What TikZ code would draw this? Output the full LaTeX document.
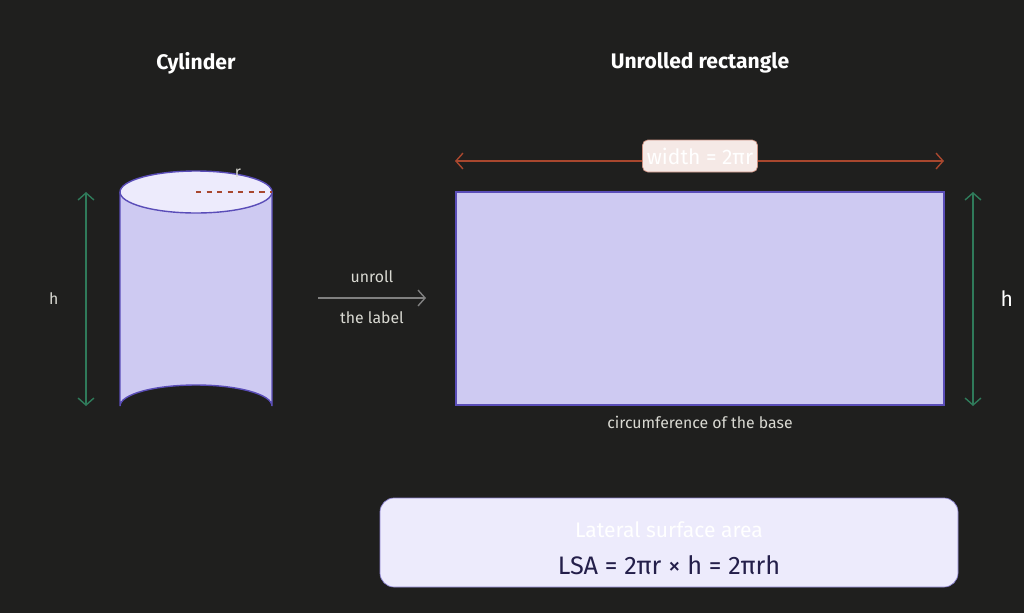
\documentclass[tikz,border=0pt]{standalone}
\usepackage{fontspec}
\setmainfont{Fira Sans}
\usetikzlibrary{arrows.meta}
\definecolor{bg}{HTML}{1F1F1E}
\definecolor{lav}{HTML}{CECAF2}
\definecolor{lavtop}{HTML}{EDEBFC}
\definecolor{edge}{HTML}{5A4DB8}
\definecolor{rust}{HTML}{A8472E}
\definecolor{pine}{HTML}{2F7A5A}
\definecolor{txt}{HTML}{D9D9D2}
\tikzset{
  dim/.style={{Straight Barb[length=4pt,width=9pt]}-{Straight Barb[length=4pt,width=9pt]}, line width=0.8pt},
  caption/.style={text=txt, font=\small},
  title/.style={text=white, font=\large\bfseries}
}
\begin{document}
\begin{tikzpicture}[x=0.02cm,y=-0.02cm]
  \fill[bg] (0,0) rectangle (1024,613);
  % titles
  \node[title] (tcyl) at (196,63) {Cylinder};
  \node[title] (trect) at (700,63) {Unrolled rectangle};
  % the cylinder
  \filldraw[fill=lav, draw=edge, line width=0.8pt] (120,192) -- (120,406) arc[start angle=180, end angle=360, x radius=76, y radius=21] -- (272,192);
  \filldraw[fill=lavtop, draw=edge, line width=0.8pt] (196,192) ellipse[x radius=76, y radius=21];
  \coordinate (c0) at (196,192);
  \coordinate (c1) at (272,192);
  \draw[rust, dashed, line width=0.8pt] (c0) -- (c1);
  \node[text=txt, font=\small] (r) at (238,173) {r};
  \coordinate (hl1) at (86,192);
  \coordinate (hl2) at (86,406);
  \draw[dim, pine] (hl1) -- node[caption, left=12pt] {h} (hl2);
  % unroll arrow
  \coordinate (u1) at (318,298);
  \coordinate (u2) at (426,298);
  \draw[-{Straight Barb[length=4pt,width=9pt]}, gray, line width=0.8pt] (u1) -- (u2);
  \node[caption] (unroll) at (372,277) {unroll};
  \node[caption] (lbl) at (372,318) {the label};
  % the rectangle
  \filldraw[fill=lav, draw=edge, line width=1pt] (456,192) rectangle (944,405);
  \node[caption] (circ) at (700,422) {circumference of the base};
  \coordinate (w1) at (455,161);
  \coordinate (w2) at (944,161);
  \draw[dim, rust] (w1) -- (w2);
  \node[fill=rust!12, draw=rust!60, rounded corners=3pt, text=white, font=\large, minimum width=115*0.02cm, minimum height=32*0.02cm, inner sep=1pt] (width) at (700,156) {width = 2πr};
  \coordinate (hr1) at (973,192);
  \coordinate (hr2) at (973,406);
  \draw[dim, pine] (hr1) -- node[text=white, font=\large, right=12pt] {h} (hr2);
  % formula box
  \filldraw[fill=lavtop, draw=edge!70, rounded corners=8pt] (380,498) rectangle (958,587);
  \node[text=white, font=\large] (lsa) at (669,530) {Lateral surface area};
  \node[text=edge!40!black, font=\Large] (formula) at (669,565) {LSA = 2πr × h = 2πrh};
\end{tikzpicture}
\end{document}
